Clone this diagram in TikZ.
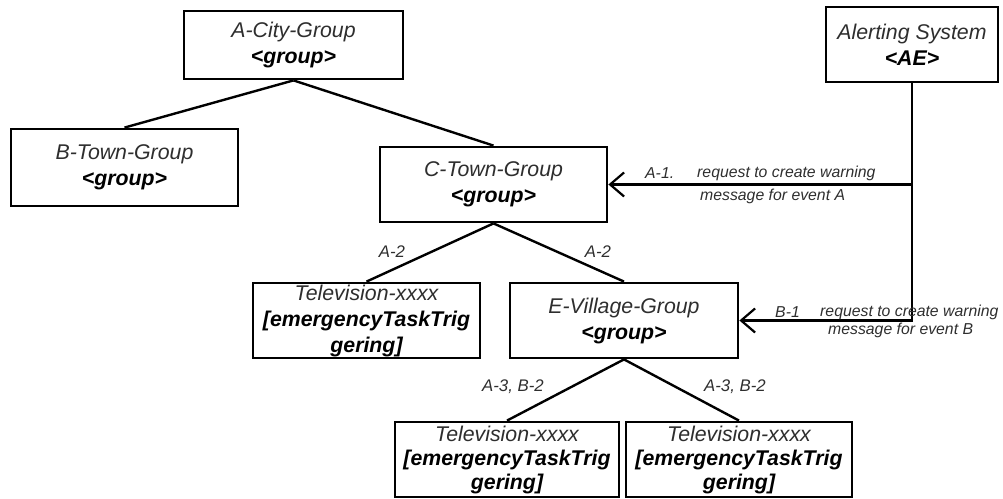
\documentclass[tikz,border=0pt]{standalone}
\usepackage{fontspec}
\setmainfont{Liberation Sans}
\usetikzlibrary{arrows.meta}
\definecolor{txt}{gray}{0.18}
\tikzset{
  box/.style={draw=black, line width=2.8pt, fill=white, inner sep=0pt, align=center,
    font=\fontsize{21.3}{26}\selectfont\itshape, text=txt},
  conn/.style={line width=2.4pt, draw=black},
  arr/.style={line width=2.4pt, draw=black, -{Straight Barb[length=14pt,width=24pt,line width=2.2pt]}},
  lbl/.style={font=\fontsize{16.8}{20}\selectfont\itshape, text=txt, inner sep=0pt},
  albl/.style={font=\fontsize{15.8}{19}\selectfont\itshape, text=txt, inner sep=0pt, anchor=west},
}
\newcommand{\bi}[1]{{\bfseries\color{black}#1}}
\begin{document}
\begin{tikzpicture}[x=1pt,y=1pt]
\useasboundingbox (0,0) rectangle (1003,498);
% boxes
\node[box, minimum width=219pt, minimum height=68pt] (acity) at (293.5,453) {A-City-Group\\\bi{<group>}};
\node[box, minimum width=172pt, minimum height=75pt] (ae) at (912,453.5) {Alerting System\\\bi{<AE>}};
\node[box, minimum width=227pt, minimum height=77pt] (btown) at (124.5,330.5) {B-Town-Group\\\bi{<group>}};
\node[box, minimum width=227pt, minimum height=75pt] (ctown) at (493.5,313.5) {C-Town-Group\\\bi{<group>}};
\node[box, minimum width=227pt, minimum height=75pt] (tv1) at (366.5,177.5) {Television-xxxx\\\bi{[emergencyTaskTrig}\\\bi{gering]}};
\node[box, minimum width=228pt, minimum height=75pt] (evillage) at (624,177.5) {E-Village-Group\\\bi{<group>}};
\node[box, minimum width=224pt, minimum height=75pt, font=\fontsize{21.3}{24}\selectfont\itshape] (tv2) at (507,38.5) {Television-xxxx\\\bi{[emergencyTaskTrig}\\\bi{gering]}};
\node[box, minimum width=226pt, minimum height=75pt, font=\fontsize{21.3}{24}\selectfont\itshape] (tv3) at (739,38.5) {Television-xxxx\\\bi{[emergencyTaskTrig}\\\bi{gering]}};
% tree connectors
\draw[conn] (acity.south) -- (btown.north);
\draw[conn] (acity.south) -- (ctown.north);
\draw[conn] (ctown.south) -- (tv1.north);
\draw[conn] (ctown.south) -- (evillage.north);
\draw[conn] (evillage.south) -- (tv2.north);
\draw[conn] (evillage.south) -- (tv3.north);
% alerting connectors
\coordinate (ja) at (ae.south |- ctown.east);
\draw[arr] (ae.south) |- (evillage.east);
\draw[arr] (ja) -- (ctown.east);
% labels
\node[lbl] (l1) at (392,246) {A-2};
\node[lbl] (l2) at (598,246) {A-2};
\node[lbl] (l3) at (513,111) {A-3, B-2};
\node[lbl] (l4) at (735,111) {A-3, B-2};
\node[albl] (a1) at (645,325) {A-1.};
\node[albl] (a2) at (697,325) {request to create warning};
\node[albl] (a3) at (700,302) {message for event A};
\node[albl] (b1) at (775,186) {B-1};
\node[albl] (b2) at (820,186) {request to create warning};
\node[albl] (b3) at (828,168) {message for event B};
\end{tikzpicture}
\end{document}
